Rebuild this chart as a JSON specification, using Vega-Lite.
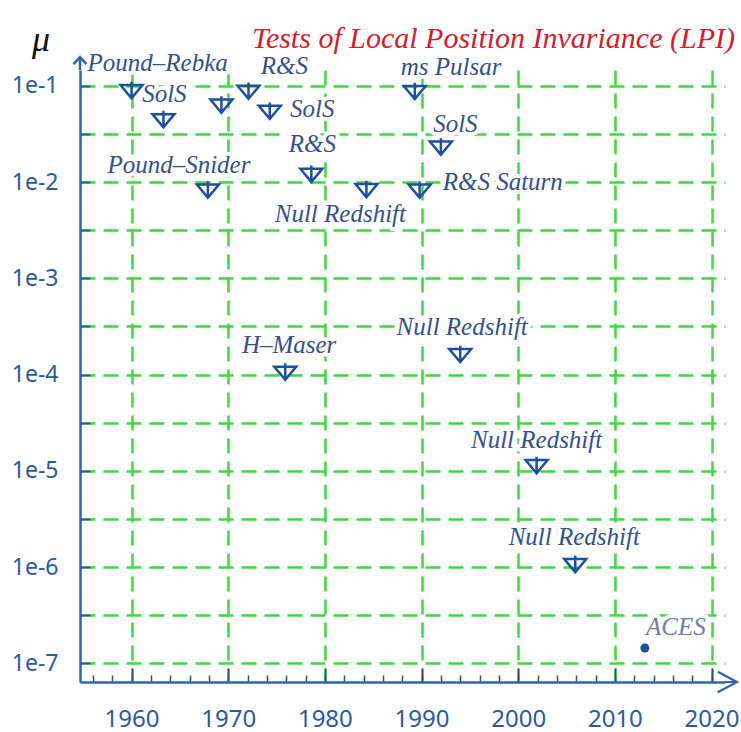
{
  "$schema": "https://vega.github.io/schema/vega-lite/v6.json",
  "width": 645,
  "height": 612,
  "autosize": {"type": "none"},
  "padding": {"left": 80, "top": 70, "right": 16, "bottom": 50},
  "background": "white",
  "config": {"view": {"stroke": null}},
  "title": {
    "text": "Tests of Local Position Invariance (LPI)",
    "anchor": "end",
    "frame": "group",
    "font": "Liberation Serif",
    "fontStyle": "italic",
    "fontWeight": "normal",
    "fontSize": 30,
    "color": "#d2202c",
    "baseline": "alphabetic",
    "dx": 10,
    "offset": -57
  },
  "datasets": {
    "measurements": [
      {"experiment": "Pound–Rebka", "year": 1960.0, "mu": 0.0898, "kind": "upper limit"},
      {"experiment": "SolS", "year": 1963.3, "mu": 0.0447, "kind": "upper limit"},
      {"experiment": "", "year": 1969.3, "mu": 0.0634, "kind": "upper limit"},
      {"experiment": "R&S", "year": 1972.1, "mu": 0.0883, "kind": "upper limit"},
      {"experiment": "SolS", "year": 1974.3, "mu": 0.0547, "kind": "upper limit"},
      {"experiment": "R&S", "year": 1978.6, "mu": 0.0121, "kind": "upper limit"},
      {"experiment": "Pound–Snider", "year": 1967.9, "mu": 0.0083, "kind": "upper limit"},
      {"experiment": "Null Redshift", "year": 1984.3, "mu": 0.00839, "kind": "upper limit"},
      {"experiment": "ms Pulsar", "year": 1989.3, "mu": 0.0877, "kind": "upper limit"},
      {"experiment": "SolS", "year": 1992.0, "mu": 0.0232, "kind": "upper limit"},
      {"experiment": "R&S Saturn", "year": 1989.8, "mu": 0.0083, "kind": "upper limit"},
      {"experiment": "H–Maser", "year": 1975.9, "mu": 0.000106, "kind": "upper limit"},
      {"experiment": "Null Redshift", "year": 1994.0, "mu": 0.000162, "kind": "upper limit"},
      {"experiment": "Null Redshift", "year": 2001.9, "mu": 0.00001135, "kind": "upper limit"},
      {"experiment": "Null Redshift", "year": 2005.9, "mu": 0.00000106, "kind": "upper limit"},
      {"experiment": "ACES", "year": 2013.1, "mu": 0.000000144, "kind": "projected"}
    ],
    "labels": [
      {"label": "Pound–Rebka", "year": 1962.7, "mu": 0.1432},
      {"label": "R&S", "year": 1975.8, "mu": 0.1333},
      {"label": "SolS", "year": 1963.4, "mu": 0.0683},
      {"label": "SolS", "year": 1978.7, "mu": 0.0476},
      {"label": "R&S", "year": 1978.7, "mu": 0.0206},
      {"label": "Pound–Snider", "year": 1964.9, "mu": 0.01247},
      {"label": "Null Redshift", "year": 1981.6, "mu": 0.00385},
      {"label": "ms Pulsar", "year": 1993.05, "mu": 0.130},
      {"label": "SolS", "year": 1993.5, "mu": 0.0333},
      {"label": "R&S Saturn", "year": 1998.4, "mu": 0.0083},
      {"label": "H–Maser", "year": 1976.3, "mu": 0.000168},
      {"label": "Null Redshift", "year": 1994.2, "mu": 0.000258},
      {"label": "Null Redshift", "year": 2001.9, "mu": 0.0000173},
      {"label": "Null Redshift", "year": 2005.8, "mu": 0.00000169},
      {"label": "ACES", "year": 2016.3, "mu": 0.000000196}
    ]
  },
  "layer": [
    {
      "data": {"name": "labels"},
      "mark": {"type": "text", "font": "Liberation Serif", "fontStyle": "italic", "fontSize": 25, "baseline": "alphabetic", "align": "center", "fill": "white", "stroke": "white", "strokeWidth": 8, "strokeJoin": "round"},
      "encoding": {
        "x": {
          "field": "year", "type": "quantitative",
          "scale": {"domain": [1954.67, 2021.39], "nice": false, "zero": false},
          "axis": {
            "orient": "bottom",
            "values": [1960, 1970, 1980, 1990, 2000, 2010, 2020],
            "title": null,
            "format": "d",
            "grid": true,
            "gridColor": "#3fd83f",
            "gridWidth": 2.5,
            "gridDash": [15, 8],
            "ticks": true,
            "tickSize": -14,
            "tickWidth": 1.5,
            "tickColor": "#2a4f80",
            "domain": false,
            "labelPadding": 58,
            "labelBaseline": "alphabetic",
            "labelFont": "Noto Sans",
            "labelFontSize": 24,
            "labelColor": "#2a5aa0",
            "labelFlush": false,
            "labelOverlap": false
          }
        },
        "y": {
          "field": "mu", "type": "quantitative",
          "scale": {"type": "log", "domain": [6.38e-8, 0.1466], "nice": false},
          "axis": {
            "orient": "left",
            "values": [1e-7, 3.1623e-7, 1e-6, 3.1623e-6, 1e-5, 3.1623e-5, 1e-4, 3.1623e-4, 1e-3, 3.1623e-3, 1e-2, 3.1623e-2, 1e-1],
            "labelExpr": "abs(log(datum.value)/LN10 - round(log(datum.value)/LN10)) < 0.01 ? '1e' + round(log(datum.value)/LN10) : ''",
            "grid": true,
            "gridColor": "#3fd83f",
            "gridWidth": 2.5,
            "gridDash": [15, 8],
            "ticks": true,
            "tickSize": -10,
            "tickWidth": 2,
            "tickColor": "#2a5c9a",
            "domain": true,
            "domainColor": "#2f63b0",
            "domainWidth": 2.5,
            "labelPadding": 32,
            "labelFont": "Noto Sans",
            "labelFontSize": 23,
            "labelColor": "#2a5aa0",
            "labelBaseline": "middle",
            "labelFlush": false,
            "labelOverlap": false,
            "title": "μ",
            "titleAngle": 0,
            "titleX": -39.5,
            "titleY": -20,
            "titleAlign": "center",
            "titleBaseline": "alphabetic",
            "titleFont": "Liberation Serif",
            "titleFontStyle": "italic",
            "titleFontWeight": "normal",
            "titleFontSize": 36,
            "titleColor": "#111111"
          }
        },
        "text": {"field": "label", "type": "nominal"}
      }
    },
    {
      "data": {"name": "measurements"},
      "transform": [{"filter": "datum.kind === 'upper limit'"}],
      "mark": {"type": "point", "shape": "M-1,-0.5L1,-0.5L0,0.7Z M0,-0.8L0,0.7", "size": 484, "filled": false, "stroke": "#1f4fa0", "strokeWidth": 2.5, "opacity": 1},
      "encoding": {
        "x": {
          "field": "year", "type": "quantitative",
          "scale": {"domain": [1954.67, 2021.39], "nice": false, "zero": false},
          "axis": {
            "orient": "bottom",
            "values": [1956, 1958, 1960, 1962, 1964, 1966, 1968, 1970, 1972, 1974, 1976, 1978, 1980, 1982, 1984, 1986, 1988, 1990, 1992, 1994, 1996, 1998, 2000, 2002, 2004, 2006, 2008, 2010, 2012, 2014, 2016, 2018, 2020],
            "title": null,
            "grid": false,
            "labels": false,
            "ticks": true,
            "tickSize": -7,
            "tickWidth": 1.5,
            "tickColor": "#2a4f80",
            "domain": true,
            "domainColor": "#2f63b0",
            "domainWidth": 2.5
          }
        },
        "y": {"field": "mu", "type": "quantitative", "axis": null}
      }
    },
    {
      "data": {"name": "measurements"},
      "transform": [{"filter": "datum.kind === 'projected'"}],
      "mark": {"type": "point", "shape": "circle", "size": 80, "filled": true, "color": "#1f4fa0", "opacity": 1},
      "encoding": {
        "x": {"field": "year", "type": "quantitative", "axis": null},
        "y": {"field": "mu", "type": "quantitative", "axis": null}
      }
    },
    {
      "data": {"name": "labels"},
      "mark": {"type": "text", "font": "Liberation Serif", "fontStyle": "italic", "fontSize": 25, "baseline": "alphabetic", "align": "center"},
      "encoding": {
        "x": {"field": "year", "type": "quantitative", "axis": null},
        "y": {"field": "mu", "type": "quantitative", "axis": null},
        "text": {"field": "label", "type": "nominal"},
        "color": {"condition": {"test": "datum.label === 'ACES'", "value": "#6a80aa"}, "value": "#34508c"}
      }
    },
    {
      "data": {"values": [{}]},
      "mark": {"type": "point", "shape": "M0,0L1,0M-0.6,-0.85L1,0L-0.6,0.85", "size": 576, "filled": false, "stroke": "#2f63b0", "strokeWidth": 2.2, "opacity": 1},
      "encoding": {
        "x": {"datum": 2021.39, "type": "quantitative", "axis": null},
        "y": {"datum": 6.38e-8, "type": "quantitative", "axis": null}
      }
    },
    {
      "data": {"values": [{}]},
      "mark": {"type": "point", "shape": "M0,0L0,-1M-0.5,-0.45L0,-1L0.5,-0.45", "size": 676, "filled": false, "stroke": "#2f63b0", "strokeWidth": 2.5, "opacity": 1},
      "encoding": {
        "x": {"datum": 1954.67, "type": "quantitative", "axis": null},
        "y": {"datum": 0.1466, "type": "quantitative", "axis": null}
      }
    }
  ],
  "resolve": {"axis": {"x": "independent", "y": "independent"}}
}
